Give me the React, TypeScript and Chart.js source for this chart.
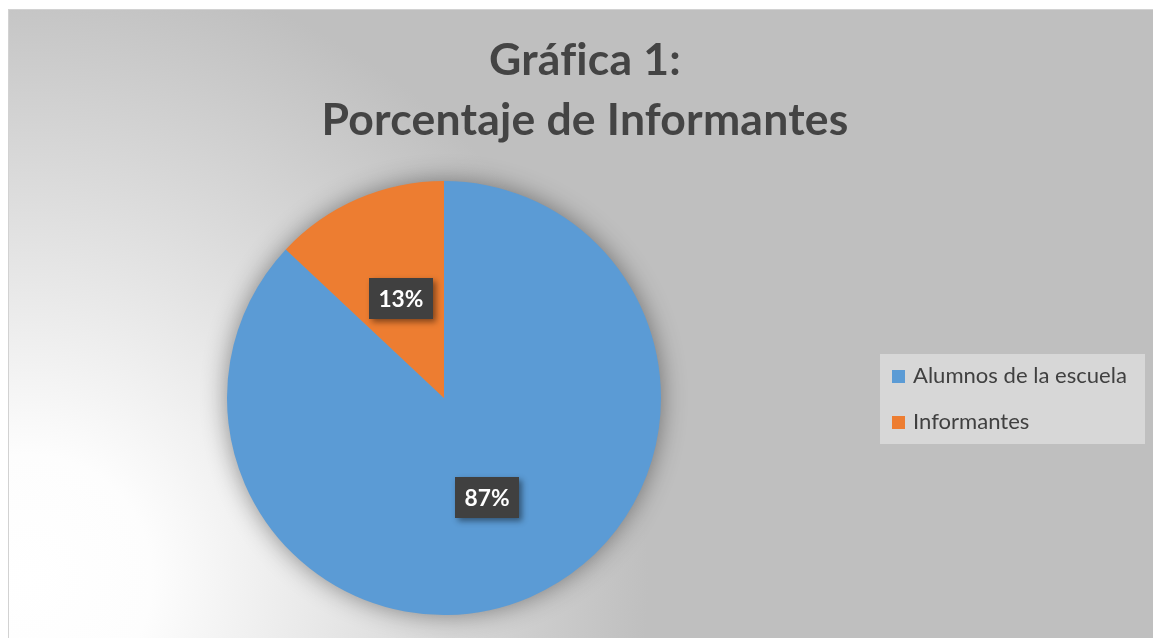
import React, { useEffect, useRef } from "react";
import { Chart, registerables } from "chart.js";

Chart.register(...registerables);

const categories = ["Alumnos de la escuela", "Informantes"];
const values = [87, 13];
const sliceColors = ["#5B9BD5", "#ED7D31"];
const titleLines = ["Gráfica 1:", "Porcentaje de Informantes"];

const W = 1145;
const H = 629;
const FONT = "Lato, 'Open Sans', 'Liberation Sans', sans-serif";

function fitSize(ctx: CanvasRenderingContext2D, text: string, weight: string, target: number) {
  ctx.font = `${weight} 100px ${FONT}`;
  const w = ctx.measureText(text).width;
  return (100 * target) / w;
}

function noLigatures(ctx: any) {
  try {
    ctx.textRendering = "optimizeSpeed";
    ctx.letterSpacing = "0.2px";
  } catch (e) {
    /* ignore */
  }
}

const deco = {
  id: "deco",
  beforeDraw(chart: any) {
    const ctx: CanvasRenderingContext2D = chart.ctx;
    ctx.save();
    const g = ctx.createRadialGradient(20, 570, 0, 20, 570, 620);
    g.addColorStop(0, "#ffffff");
    g.addColorStop(0.2, "#fdfdfd");
    g.addColorStop(1, "#bfbfbf");
    ctx.fillStyle = g;
    ctx.fillRect(0, 0, W, H);
    ctx.strokeStyle = "#d2d2d2";
    ctx.lineWidth = 1;
    ctx.strokeRect(0.5, 0.5, W + 5, H + 5);
    ctx.restore();
  },
  beforeDatasetsDraw(chart: any) {
    const ctx: CanvasRenderingContext2D = chart.ctx;
    const arc = chart.getDatasetMeta(0).data[0];
    if (!arc) return;
    const { x, y, outerRadius } = arc.getProps(["x", "y", "outerRadius"], true);
    ctx.save();
    ctx.shadowColor = "rgba(0,0,0,0.45)";
    ctx.shadowBlur = 26;
    ctx.fillStyle = "#999";
    ctx.beginPath();
    ctx.arc(x, y, outerRadius - 1, 0, Math.PI * 2);
    ctx.fill();
    ctx.restore();
  },
  afterDatasetsDraw(chart: any) {
    const ctx: CanvasRenderingContext2D = chart.ctx;
    const meta = chart.getDatasetMeta(0);
    const data: number[] = chart.data.datasets[0].data;
    const total = data.reduce((a, b) => a + b, 0);
    ctx.save();
    const size = fitSize(ctx, "13%", "bold", 45);
    meta.data.forEach((arc: any, i: number) => {
      const p = arc.tooltipPosition(true);
      const txt = Math.round((data[i] / total) * 100) + "%";
      const bw = 64;
      const bh = 41;
      ctx.save();
      ctx.shadowColor = "rgba(0,0,0,0.45)";
      ctx.shadowBlur = 6;
      ctx.shadowOffsetX = 3;
      ctx.shadowOffsetY = 3;
      ctx.fillStyle = "#404040";
      ctx.fillRect(Math.round(p.x - bw / 2), Math.round(p.y - bh / 2), bw, bh);
      ctx.restore();
      ctx.fillStyle = "#ffffff";
      ctx.font = `bold ${size}px ${FONT}`;
      ctx.textAlign = "center";
      ctx.textBaseline = "middle";
      ctx.fillText(txt, p.x, p.y + 1);
    });
    ctx.restore();
  },
  afterDraw(chart: any) {
    const ctx: CanvasRenderingContext2D = chart.ctx;
    ctx.save();
    // title
    const tSize = fitSize(ctx, titleLines[1], "bold", 522);
    ctx.font = `bold ${tSize}px ${FONT}`;
    noLigatures(ctx);
    ctx.fillStyle = "#444444";
    ctx.textAlign = "center";
    ctx.textBaseline = "alphabetic";
    ctx.fillText(titleLines[0], 577, 66);
    ctx.fillText(titleLines[1], 577, 126);
    ctx.restore();
    ctx.save();
    // legend
    ctx.fillStyle = "rgba(235,235,235,0.55)";
    ctx.fillRect(872, 345, 265, 90);
    const lSize = fitSize(ctx, chart.data.labels[0], "normal", 214);
    ctx.font = `normal ${lSize}px ${FONT}`;
    ctx.textAlign = "left";
    const cols = chart.data.datasets[0].backgroundColor;
    chart.data.labels.forEach((lab: string, i: number) => {
      const top = 361 + i * 46;
      ctx.fillStyle = cols[i];
      ctx.fillRect(884, top, 13, 13);
      ctx.fillStyle = "#404040";
      ctx.fillText(lab, 905, top + 13);
    });
    ctx.restore();
  },
};

export default function App() {
  const ref = useRef<HTMLCanvasElement | null>(null);
  useEffect(() => {
    if (!ref.current) return;
    const chart = new Chart(ref.current, {
      type: "pie",
      data: {
        labels: categories,
        datasets: [
          {
            data: values,
            backgroundColor: sliceColors,
            borderWidth: 0,
          },
        ],
      },
      options: {
        animation: false,
        responsive: false,
        maintainAspectRatio: false,
        layout: { padding: { left: 219, right: 492, top: 172, bottom: 23 } },
        plugins: {
          legend: { display: false },
          title: { display: false },
          tooltip: { enabled: false },
        },
      },
      plugins: [deco],
    });
    return () => chart.destroy();
  }, []);
  return (
    <div style={{ position: "absolute", left: 8, top: 9, width: W, height: H }}>
      <canvas ref={ref} width={W} height={H} style={{ width: W, height: H, display: "block" }} />
    </div>
  );
}
